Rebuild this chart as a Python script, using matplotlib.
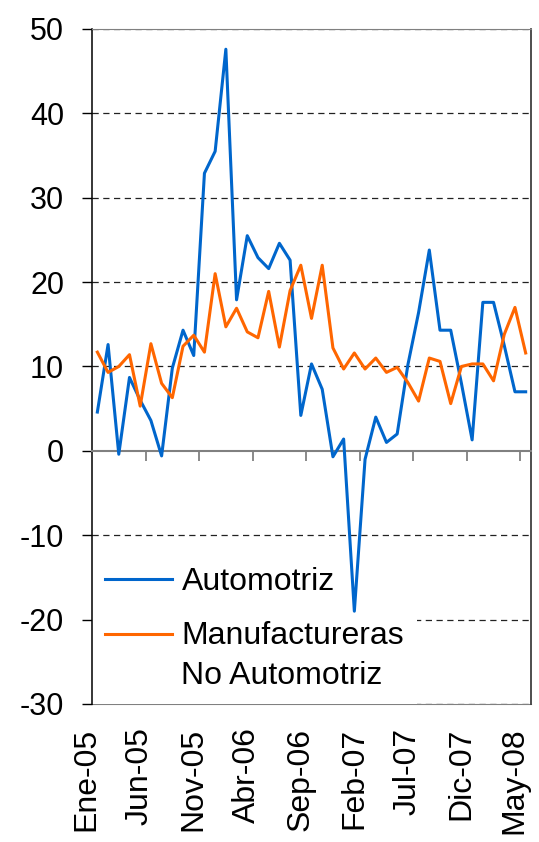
import numpy as np
import matplotlib.pyplot as plt
import matplotlib.transforms as mtrans

plt.rcParams['font.family'] = ['Liberation Sans', 'DejaVu Sans']
plt.rcParams['axes.unicode_minus'] = False

# monthly series, Ene-05 .. May-08
meses = ["Ene-05", "Jun-05", "Nov-05", "Abr-06", "Sep-06",
         "Feb-07", "Jul-07", "Dic-07", "May-08"]
automotriz = [4.6, 12.6, -0.4, 8.7, 6.0, 3.6, -0.6, 9.8, 14.3, 11.3,
              32.9, 35.5, 47.6, 17.9, 25.5, 22.9, 21.6, 24.6, 22.6, 4.2,
              10.3, 7.3, -0.7, 1.4, -19.0, -1.0, 4.0, 1.0, 2.0, 10.2,
              16.4, 23.8, 14.3, 14.3, 8.0, 1.3, 17.6, 17.6, 12.5, 7.0, 7.0]
no_automotriz = [11.7, 9.3, 10.0, 11.4, 5.3, 12.7, 8.0, 6.3, 12.4, 13.7,
                 11.7, 21.0, 14.7, 16.9, 14.1, 13.4, 18.9, 12.3, 19.0, 22.0,
                 15.7, 22.0, 12.2, 9.7, 11.6, 9.7, 11.0, 9.3, 9.9, 8.1,
                 5.9, 11.0, 10.6, 5.6, 10.0, 10.3, 10.3, 8.3, 13.8, 17.0, 11.6]

x = np.arange(len(automotriz))

fig = plt.figure(figsize=(5.39, 8.42), dpi=100)
ax = fig.add_axes([0.1707, 0.1639, 0.8145, 0.8017])

ax.plot(x, automotriz, color='#0066CC', lw=2.2, label='Automotriz', zorder=3)
ax.plot(x, no_automotriz, color='#FF6600', lw=2.2,
        label='Manufactureras\nNo Automotriz', zorder=3)

ax.set_xlim(-0.5, len(x) - 0.5)
ax.set_ylim(-30, 50)
ax.set_yticks(range(-30, 51, 10))
ax.tick_params(axis='y', direction='out', length=7, width=1, pad=13,
               labelsize=22, colors='black')

# gridlines, none at zero
ax.set_axisbelow(True)
ax.yaxis.grid(True, linestyle=(0, (5, 3.6)), lw=0.9, color='#222222')
for t, v in zip(ax.yaxis.get_major_ticks(), ax.get_yticks()):
    if v == 0:
        t.gridline.set_visible(False)

# category axis at zero, ticks between every fifth month
ax.spines['bottom'].set_position(('data', 0))
ax.spines['bottom'].set_color('#808080')
ax.spines['bottom'].set_linewidth(1.5)
ax.set_xticks(np.arange(4.5, len(x) - 1, 5))
ax.tick_params(axis='x', direction='out', length=7, width=1.3,
               color='#808080', labelbottom=False)
ax.spines['left'].set_linewidth(1.1)
ax.spines['top'].set_color('#808080')
ax.spines['right'].set_color('#303030')
ax.spines['right'].set_linewidth(1.2)

sec = ax.secondary_xaxis('bottom')
sec.set_xticks(np.arange(0, len(x), 5), meses)
sec.tick_params(length=0, pad=17, labelsize=23, labelrotation=90)
sec.spines['bottom'].set_color('#808080')
shift = mtrans.ScaledTranslation(-11 / 100, 0, fig.dpi_scale_trans)
for lbl in sec.get_xticklabels():
    lbl.set_transform(lbl.get_transform() + shift)

leg = ax.legend(loc='lower left', bbox_to_anchor=(0, 0), borderaxespad=0,
                frameon=True, fancybox=False, edgecolor='none',
                facecolor='white', framealpha=1, fontsize=23,
                handlelength=2.1, handletextpad=0.3, labelspacing=0.75,
                borderpad=0.4)
leg.set_zorder(1.5)
leg.get_texts()[1].set_linespacing(1.45)
h = leg.get_lines()[1]
h.set_ydata(np.asarray(h.get_ydata()) + 16)

fig.savefig('out.png', dpi=100)
